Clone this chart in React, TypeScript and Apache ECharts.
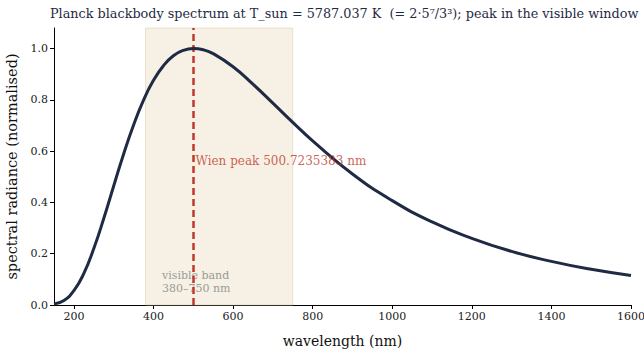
import React, { useEffect, useRef } from "react";
import * as echarts from "echarts";

const wavelengths = [150, 175, 200, 225, 250, 275, 300, 325, 350, 375, 400, 425, 450, 475, 500, 525, 550, 600, 650, 700, 750, 800, 900, 1000, 1100, 1200, 1300, 1400, 1500, 1600];
const radiance = [0.004, 0.018, 0.056, 0.123, 0.22, 0.337, 0.464, 0.589, 0.702, 0.799, 0.876, 0.933, 0.972, 0.993, 1.0, 0.995, 0.98, 0.929, 0.861, 0.787, 0.712, 0.64, 0.511, 0.407, 0.324, 0.26, 0.209, 0.17, 0.139, 0.115];
const visibleBand = [380, 750];
const wienPeak = 500.7235383;
const xTicks = [200, 400, 600, 800, 1000, 1200, 1400, 1600];
const yTicks = [0, 0.2, 0.4, 0.6, 0.8, 1.0];
const titleText = "Planck blackbody spectrum at T_sun = 5787.037 K  (= 2·5⁷/3³); peak in the visible window";

const FONT = "'DejaVu Serif', serif";

export default function App() {
  const ref = useRef<HTMLDivElement>(null);
  useEffect(() => {
    if (!ref.current) return;
    const chart = echarts.init(ref.current, null, { renderer: "svg" });
    chart.setOption({
      animation: false,
      backgroundColor: "#ffffff",
      textStyle: { fontFamily: FONT },
      title: {
        text: titleText,
        left: 50,
        top: 7,
        padding: 0,
        textStyle: { fontFamily: FONT, fontSize: 12.8, fontWeight: "normal", color: "#1f2a44" },
      },
      grid: { left: 54, right: 13, top: 28, bottom: 45, containLabel: false, outerBoundsMode: "none" },
      xAxis: {
        type: "value",
        min: 150,
        max: 1600,
        name: "wavelength (nm)",
        nameLocation: "middle",
        nameGap: 29,
        nameTextStyle: { fontFamily: FONT, fontSize: 14, color: "#111" },
        splitLine: { show: false },
        axisLine: { lineStyle: { color: "#000", width: 1 } },
        axisTick: { length: 4, lineStyle: { color: "#000" }, customValues: xTicks },
        axisLabel: {
          fontFamily: FONT,
          fontSize: 11,
          color: "#222",
          margin: 6,
          customValues: xTicks,
          formatter: (v: number) => String(v),
        },
      },
      yAxis: {
        type: "value",
        min: 0,
        max: 1.08,
        name: "spectral radiance (normalised)",
        nameLocation: "middle",
        nameGap: 35,
        nameTextStyle: { fontFamily: FONT, fontSize: 14.5, color: "#111" },
        splitLine: { show: false },
        axisLine: { show: true, lineStyle: { color: "#000", width: 1 } },
        axisTick: { show: true, length: 4, lineStyle: { color: "#000" }, customValues: yTicks },
        axisLabel: {
          fontFamily: FONT,
          fontSize: 11,
          color: "#222",
          margin: 6,
          customValues: yTicks,
          formatter: (v: number) => v.toFixed(1),
        },
      },
      series: [
        {
          type: "line",
          data: wavelengths.map((w, i) => [w, radiance[i]]),
          smooth: true,
          showSymbol: false,
          lineStyle: { color: "#1f2a44", width: 3 },
          z: 5,
          markArea: {
            silent: true,
            itemStyle: { color: "rgba(236,224,196,0.45)", borderColor: "rgba(220,205,170,0.5)", borderWidth: 1 },
            data: [[{ xAxis: visibleBand[0] }, { xAxis: visibleBand[1] }]],
            label: {
              show: true,
              position: "insideBottomLeft",
              formatter: "visible band\n380–750 nm",
              color: "#9a9a9a",
              fontFamily: FONT,
              fontSize: 11,
              lineHeight: 13,
              offset: [12, -6],
            },
          },
        },
        {
          type: "line",
          data: [],
          markLine: {
            silent: true,
            symbol: "none",
            lineStyle: { color: "#c0392b", type: [7, 4], width: 2.5 },
            label: { show: false },
            data: [{ xAxis: wienPeak }],
          },
          z: 6,
        },
        {
          type: "scatter",
          data: [[wienPeak + 5, 0.56]],
          symbolSize: 0,
          z: 7,
          label: {
            show: true,
            position: "right",
            distance: 0,
            formatter: "Wien peak " + wienPeak + " nm",
            color: "#c0392b",
            fontFamily: FONT,
            fontSize: 12,
          },
        },
      ],
    });
    return () => chart.dispose();
  }, []);
  return <div ref={ref} style={{ position: "fixed", left: 0, top: 0, width: 644, height: 350 }} />;
}
